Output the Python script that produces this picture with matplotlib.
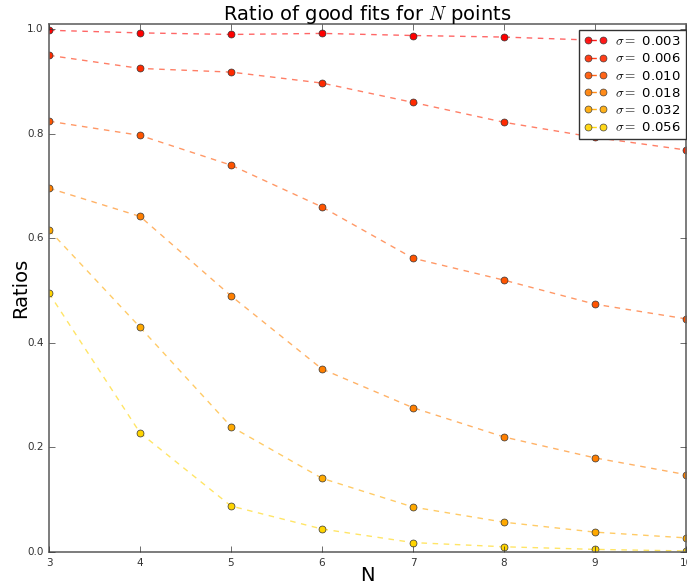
"""
Ratio of good fits for N points, one dashed line per noise level sigma.
"""

import matplotlib
matplotlib.use('Agg')
import matplotlib.pyplot as plt
import numpy as np

plt.style.use('classic')

# Data
n_points = [3, 4, 5, 6, 7, 8, 9, 10]
sigmas = ['0.003', '0.006', '0.010', '0.018', '0.032', '0.056']

ratio_0003 = [0.998, 0.993, 0.990, 0.992, 0.988, 0.985, 0.979, 0.975]
ratio_0006 = [0.950, 0.925, 0.918, 0.897, 0.860, 0.822, 0.793, 0.769]
ratio_0010 = [0.824, 0.797, 0.740, 0.660, 0.562, 0.520, 0.474, 0.446]
ratio_0018 = [0.696, 0.642, 0.490, 0.350, 0.276, 0.220, 0.180, 0.148]
ratio_0032 = [0.616, 0.430, 0.240, 0.141, 0.086, 0.057, 0.038, 0.027]
ratio_0056 = [0.495, 0.228, 0.088, 0.044, 0.018, 0.010, 0.005, 0.002]

ratios = [ratio_0003, ratio_0006, ratio_0010, ratio_0018, ratio_0032, ratio_0056]

colors = plt.cm.autumn(np.linspace(0, 0.83, len(sigmas)))

fig = plt.figure(figsize=(6.87, 5.87), dpi=100)
ax = fig.add_axes([49 / 687, 35 / 587, 637 / 687, 528 / 587])

for sig, vals, col in zip(sigmas, ratios, colors):
    # dashed line drawn lighter, markers on top
    ax.plot(n_points, vals, linestyle='--', color=col, alpha=0.6, linewidth=1,
            dashes=(4, 4))
    ax.plot(n_points, vals, linestyle='none', marker='o', markersize=5,
            markerfacecolor=col, markeredgecolor='#333333', markeredgewidth=0.5)
    # proxy for the legend (marker + dashed line)
    ax.plot([], [], linestyle='--', color=col, alpha=0.9, marker='o',
            markersize=5, markerfacecolor=col, markeredgecolor='#333333',
            markeredgewidth=0.5, label=r'$\sigma=$ ' + sig)

ax.set_xlim(3, 10)
ax.set_ylim(0, 1.01)
ax.set_xticks(n_points)
ax.set_yticks([0.0, 0.2, 0.4, 0.6, 0.8, 1.0])
ax.tick_params(labelsize=7.5, colors='#333333')
for sp in ax.spines.values():
    sp.set_color('#666666')
    sp.set_linewidth(1.2)

ax.set_title(r'Ratio of good fits for $N$ points', fontsize=14, pad=3)
ax.set_xlabel('N', fontsize=14, labelpad=-1)
ax.set_ylabel('Ratios', fontsize=14, labelpad=-2)

leg = ax.legend(loc='upper right', bbox_to_anchor=(1.0, 0.989), fontsize=9.5,
                numpoints=2, borderaxespad=0.0, handlelength=1.75,
                labelspacing=0.32, borderpad=0.4, handletextpad=0.6)
leg.get_frame().set_edgecolor('#333333')

fig.savefig('out.png', dpi=100)
